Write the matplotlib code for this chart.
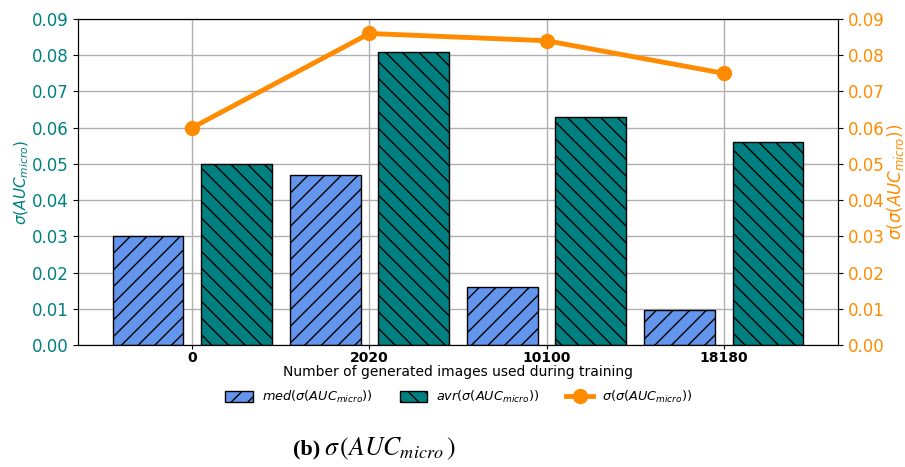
import matplotlib
matplotlib.use("Agg")
import matplotlib.pyplot as plt
import numpy as np

categories = ["0", "2020", "10100", "18180"]
med_vals = [0.030, 0.047, 0.016, 0.0096]
avr_vals = [0.050, 0.081, 0.063, 0.056]
std_vals = [0.060, 0.086, 0.084, 0.075]

teal = "#008080"
blue = "#6495ED"
orange = "#FF8C00"

fig = plt.figure(figsize=(9.05, 4.67), dpi=100)
ax = fig.add_axes([78/905, 1-345/467, (838-78)/905, (345-19)/467])
x = np.arange(len(categories))
w = 0.4
b1 = ax.bar(x - 0.25, med_vals, w, color=blue, edgecolor="black", hatch="//",
            linewidth=1, label=r"$med(\sigma(AUC_{micro}))$")
b2 = ax.bar(x + 0.25, avr_vals, w, color=teal, edgecolor="black", hatch="\\\\",
            linewidth=1, label=r"$avr(\sigma(AUC_{micro}))$")
ax.set_axisbelow(True)
ax.grid(True, color="#b0b0b0", linewidth=1)
ax.set_ylim(0, 0.09)
yt = np.arange(0, 0.0901, 0.01)
ax.set_yticks(yt)
ax.set_yticklabels([f"{v:.2f}" for v in yt])
ax.tick_params(axis="y", labelcolor=teal, labelsize=12)
ax.set_xticks(x)
ax.set_xticklabels(categories, fontweight="bold", fontsize=10)
ax.tick_params(axis="x", length=3, pad=1)
ax.set_xlabel("Number of generated images used during training", fontsize=10, labelpad=0.5)
ax.set_ylabel(r"$\sigma(AUC_{micro})$", color=teal, fontsize=11, labelpad=0)

ax2 = ax.twinx()
l1, = ax2.plot(x, std_vals, color=orange, linewidth=3.5, marker="o", markersize=10,
               label=r"$\sigma(\sigma(AUC_{micro}))$")
ax2.set_ylim(0, 0.09)
ax2.set_yticks(yt)
ax2.set_yticklabels([f"{v:.2f}" for v in yt])
ax2.tick_params(axis="y", labelcolor=orange, labelsize=12)
ax2.set_ylabel(r"$\sigma(\sigma(AUC_{micro}))$", color=orange, fontsize=12, labelpad=0)

fig.legend(handles=[b1, b2, l1], loc="center", bbox_to_anchor=(459/905, 1-397/467),
           ncol=3, frameon=False, fontsize=9.3, columnspacing=2.1, handletextpad=0.7,
           handlelength=2.1, handleheight=0.9)

fig.text(320/905, 1-449/467, "(b)", fontsize=16, fontweight="bold", family="Liberation Serif",
         ha="right", va="center")
fig.text(324/905, 1-449/467, r"$\sigma\,(AUC_{micro}\,)$", fontsize=18.5, ha="left", va="center",
         math_fontfamily="stix")

fig.savefig("out.png", dpi=100)
